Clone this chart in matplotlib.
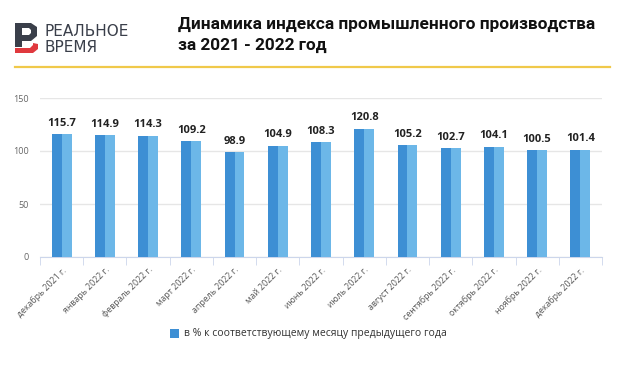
import matplotlib
matplotlib.use("Agg")
import matplotlib.pyplot as plt
from matplotlib.patches import Polygon, Rectangle
import numpy as np

months = ["декабрь 2021 г.", "январь 2022 г.", "февраль 2022 г.", "март 2022 г.",
          "апрель 2022 г.", "май 2022 г.", "июнь 2022 г.", "июль 2022 г.",
          "август 2022 г.", "сентябрь 2022 г.", "октябрь 2022 г.", "ноябрь 2022 г.",
          "декабрь 2022 г."]
values = [115.7, 114.9, 114.3, 109.2, 98.9, 104.9, 108.3, 120.8,
          105.2, 102.7, 104.1, 100.5, 101.4]
series_name = "в % к соответствующему месяцу предыдущего года"
title = "Динамика индекса промышленного производства\nза 2021 - 2022 год"

W, H = 620, 388
plt.rcParams['font.family'] = ['Open Sans', 'DejaVu Sans']
fig = plt.figure(figsize=(W / 100, H / 100), dpi=100)
fig.patch.set_facecolor("white")

def fx(px):
    return px / W

def fy(py):
    return 1 - py / H

def poly(pts, color):
    fig.patches.append(Polygon([[fx(a), fy(b)] for a, b in pts], closed=True,
                               transform=fig.transFigure, facecolor=color, edgecolor="none"))

# logo
poly([(15, 23), (31, 23), (37, 27), (37, 36), (31, 41), (22, 41), (22, 47), (15, 47)], "#3a3f4a")
poly([(22, 28), (29, 28), (31, 30), (31, 33), (29, 35), (22, 35)], "white")
poly([(15, 48), (30, 48), (33, 45), (33, 43), (38, 44), (38, 49), (33, 53), (15, 53)], "#e0393e")
fig.text(fx(45), fy(36.5), "РЕАЛЬНОЕ", fontsize=11, color="#3a3f4a", va="baseline", ha="left",
         family="DejaVu Sans")
fig.text(fx(45), fy(51.5), "ВРЕМЯ", fontsize=11, color="#3a3f4a", va="baseline", ha="left",
         family="DejaVu Sans")

fig.text(fx(178), fy(35), title, fontsize=12.4, fontweight="bold", color="#111111",
         va="center", ha="left", linespacing=1.5, family=["Roboto", "DejaVu Sans"])
fig.add_artist(plt.Line2D([fx(15), fx(610)], [fy(67), fy(67)], transform=fig.transFigure,
                          color="#f0c94a", lw=1.6))

ax = fig.add_axes([fx(40), fy(257), fx(602) - fx(40), fy(98) - fy(257)])
x = np.arange(len(values))
bw = 0.46
ax.bar(x - bw / 4, values, width=bw / 2, color="#3d8fd4", zorder=3)
ax.bar(x + bw / 4, values, width=bw / 2, color="#6cb7e8", zorder=3)
for xi, v in zip(x, values):
    ax.annotate(f"{v:g}", (xi, v), xytext=(0, 4), textcoords="offset points",
                ha="center", va="bottom", fontsize=8, fontweight="bold", color="#222222")

ax.set_xlim(-0.5, len(values) - 0.5)
ax.set_ylim(0, 150)
ax.set_yticks([0, 50, 100, 150])
ax.grid(axis="y", color="#e6e6e6", lw=1, zorder=0)
ax.tick_params(axis="y", length=0, labelsize=6.5, labelcolor="#666666", pad=8)
for s in ["top", "right", "left"]:
    ax.spines[s].set_visible(False)
ax.spines["bottom"].set_color("#ccd6eb")
ax.set_xticks(np.arange(len(values) + 1) - 0.5, minor=True)
ax.set_xticks(x)
ax.set_xticklabels(months, rotation=45, ha="right", rotation_mode="anchor",
                   fontsize=6.3, color="#555555")
ax.tick_params(axis="x", which="major", length=0, pad=6)
ax.tick_params(axis="x", which="minor", length=6, color="#ccd6eb")

fig.patches.append(Rectangle((fx(170), fy(338)), fx(9), fy(329) - fy(338), transform=fig.transFigure,
                             facecolor="#3d8fd4", edgecolor="none"))
fig.text(fx(184), fy(333.5), series_name, fontsize=7.5, color="#333333", va="center", ha="left")

fig.savefig("out.png", dpi=100, facecolor="white")
